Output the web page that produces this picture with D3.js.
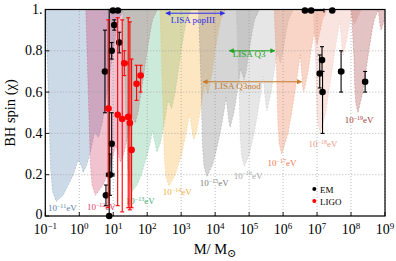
<!DOCTYPE html>
<html><head><meta charset="utf-8">
<script src="https://cdn.jsdelivr.net/npm/d3@7"></script>
<style>
body{margin:0;background:#fff}
text{font-family:"Liberation Serif","DejaVu Serif",serif}
</style></head><body><svg id="c" width="396" height="261"></svg>
<script>
// ---------------- DATA ----------------
const massTickExp = [-1,0,1,2,3,4,5,6,7,8,9];
const spinTicks = [0,0.2,0.4,0.6,0.8,1];
const spinTickLabels = ["0","0.2","0.4","0.6","0.8","1."];

// boson masses (exponent of eV) and the BH mass (Msun) where alpha=1/2 at chi=1
const bosonExp = [-11,-12,-13,-14,-15,-16,-17,-18,-19];
const refMass = [6.67,66.7,667,6.67e3,6.67e4,6.67e5,6.67e6,6.67e7,6.67e8];

// Regge-plane exclusion outlines: [log10(M/refMass), spin]
const shape11 = [[-1.81,1],[-1.735,0.58],[-1.665,0.22],[-1.612,0.12],[-1.506,0.07],[-1.3,0.1],[-0.997,0.2],[-0.856,0.273],[-0.744,0.235],[-0.709,0.21],[-0.597,0.25],[-0.515,0.3],[-0.444,0.35],[-0.374,0.404],[-0.256,0.38],[-0.147,0.45],[0,0.6],[0.088,0.7],[0.176,0.8],[0.274,0.9],[0.335,0.95],[0.476,1]];
const shape12 = [[-1.632,1],[-1.559,0.595],[-1.497,0.25],[-1.45,0.15],[-1.35,0.1],[-1.124,0.15],[-0.997,0.2],[-0.897,0.25],[-0.815,0.3],[-0.753,0.342],[-0.65,0.285],[-0.615,0.26],[-0.515,0.3],[-0.444,0.35],[-0.379,0.4],[-0.288,0.483],[-0.174,0.45],[-0.094,0.5],[0,0.6],[0.088,0.7],[0.176,0.8],[0.274,0.9],[0.335,0.95],[0.476,1]];
const shape13 = [[-1.544,1],[-1.471,0.604],[-1.412,0.27],[-1.368,0.17],[-1.271,0.12],[-1.124,0.15],[-0.997,0.2],[-0.815,0.3],[-0.744,0.35],[-0.668,0.412],[-0.571,0.335],[-0.535,0.31],[-0.444,0.35],[-0.379,0.4],[-0.324,0.45],[-0.271,0.5],[-0.212,0.561],[-0.103,0.52],[0,0.6],[0.088,0.7],[0.176,0.8],[0.274,0.9],[0.335,0.95],[0.476,1]];
const shape14 = [[-1.45,1],[-1.376,0.615],[-1.324,0.295],[-1.279,0.195],[-1.188,0.145],[-0.997,0.2],[-0.815,0.3],[-0.679,0.4],[-0.578,0.494],[-0.488,0.395],[-0.453,0.37],[-0.379,0.4],[-0.271,0.5],[-0.176,0.6],[-0.141,0.638],[-0.035,0.59],[0.088,0.7],[0.176,0.8],[0.274,0.9],[0.335,0.95],[0.476,1]];
const shape15 = [[-1.315,1],[-1.241,0.636],[-1.197,0.34],[-1.153,0.24],[-1.068,0.19],[-0.897,0.25],[-0.815,0.3],[-0.679,0.4],[-0.571,0.5],[-0.5,0.574],[-0.418,0.455],[-0.382,0.43],[-0.271,0.5],[-0.176,0.6],[-0.088,0.7],[-0.076,0.714],[0.026,0.66],[0.088,0.7],[0.176,0.8],[0.274,0.9],[0.335,0.95],[0.476,1]];
const shape16 = [[-1.2,1],[-1.126,0.658],[-1.088,0.39],[-1.047,0.29],[-0.965,0.24],[-0.815,0.3],[-0.679,0.4],[-0.571,0.5],[-0.476,0.6],[-0.41,0.676],[-0.332,0.535],[-0.297,0.51],[-0.176,0.6],[-0.088,0.7],[-0.003,0.798],[0.097,0.74],[0.176,0.8],[0.274,0.9],[0.335,0.95],[0.476,1]];
const shape17 = [[-1.085,1],[-1.012,0.685],[-0.979,0.45],[-0.941,0.35],[-0.865,0.3],[-0.679,0.4],[-0.571,0.5],[-0.476,0.6],[-0.388,0.7],[-0.318,0.781],[-0.247,0.625],[-0.212,0.6],[-0.088,0.7],[0,0.8],[0.085,0.887],[0.176,0.83],[0.274,0.9],[0.335,0.95],[0.476,1]];
const shape18 = [[-0.935,1],[-0.862,0.73],[-0.835,0.55],[-0.803,0.45],[-0.729,0.4],[-0.571,0.5],[-0.476,0.6],[-0.388,0.7],[-0.3,0.8],[-0.203,0.9],[-0.147,0.946],[-0.09,0.805],[-0.054,0.78],[0.044,0.85],[0.097,0.9],[0.159,0.95],[0.197,0.972],[0.282,0.93],[0.335,0.95],[0.476,1]];
const shape19 = [[-0.815,1],[-0.741,0.775],[-0.721,0.65],[-0.688,0.55],[-0.621,0.5],[-0.476,0.6],[-0.388,0.7],[-0.3,0.8],[-0.203,0.9],[-0.141,0.95],[-0.021,0.999],[0.026,0.925],[0.062,0.9],[0.159,0.95],[0.3,1]];
const regionShapes = [shape11,shape12,shape13,shape14,shape15,shape16,shape17,shape18,shape19];

// EM measurements
const emMass   = [9.8, 13.7, 10.7, 15.0, 9.0, 5.7, 9.0, 8.0, 6.1, 7.6, 4.4e6, 6.7e6, 2.8e7, 1.4e7, 1.2e7, 1.45e7, 5.1e7, 2.6e8];
const emSpin   = [0.995,0.995,0.925,0.84,0.80,0.70,0.35,0.20,0.10,0.0,0.995,0.995,0.995,0.755,0.69,0.60,0.70,0.65];
const emSpinLo = [null,null,0.90,0.79,0.76,0.50,0.20,0.10,0.05,0.0,null,null,null,0.70,0.62,0.40,0.60,0.60];
const emSpinHi = [null,null,0.95,0.89,0.84,0.90,0.50,0.30,0.15,1.0,null,null,null,0.82,0.78,0.70,0.80,0.70];
const emMassLo = [null,null,null,14.0,null,null,null,6.3,null,null,null,6.7e6,null,1.2e7,null,null,4.3e7,2.3e8];
const emMassHi = [null,null,null,16.5,null,null,null,10.5,null,null,null,1.6e7,null,1.65e7,null,null,6.1e7,2.9e8];

// LIGO measurements
const ligoMass   = [7.1, 13.5, 18.4, 27.6, 30.9, 34.7, 21.1, 48.7, 64];
const ligoSpin   = [0.52,0.49,0.47,0.48,0.45,0.32,0.74,0.64,0.68];
const ligoSpinLo = [0.04,0.05,0.02,0.04,0.03,0.04,0.68,0.56,0.60];
const ligoSpinHi = [0.95,0.96,0.95,0.96,0.94,0.76,0.80,0.73,0.73];
const ligoMassLo = [6.0,12.3,null,null,null,null,19.0,44,58];
const ligoMassHi = [8.6,15.0,null,null,null,null,27.0,55,70];

// LISA ranges
const lisaNames = ["LISA popIII","LISA Q3","LISA Q3nod"];
const lisaMassLo = [355, 2.6e4, 4.4e3];
const lisaMassHi = [1.9e4, 5.7e5, 3.5e6];
const lisaSpin = [0.982, 0.80, 0.65];

// ---------------- STYLE ----------------
const regionColor = ["#4876a5","#cd2658","#48b27a","#f8a826","#696969","#a5a5a5","#eb6937","#e89e91","#9b2626"];
const labelColor  = ["#5b82ad","#e23a64","#3fae76","#f5ae3a","#7a7a7a","#a8a8a8","#ef7a55","#eb9a88","#a33a3a"];
const labelPos = [[0.12,0.024],[1.68,0.029],[23.4,0.058],[288,0.10],[3550,0.145],[3.5e4,0.18],[3.5e5,0.242],[5.6e6,0.334],[6.5e7,0.45]];
const lisaColor = ["#2d2df0","#22a022","#c47a2a"];
const lisaTextPos = [[2.2e3,0.935],[1.0e5,0.77],[4.6e4,0.615]];

const svg = d3.select("#c");
const x = d3.scaleLog().domain([0.1,1e9]).range([45.3,385]);
const y = d3.scaleLinear().domain([0,1]).range([216,9.5]);

svg.append("rect").attr("width",396).attr("height",261).attr("fill","#fff");
svg.append("clipPath").attr("id","clip").append("rect")
  .attr("x",x(0.1)).attr("y",y(1)).attr("width",x(1e9)-x(0.1)).attr("height",y(0)-y(1));

const plot = svg.append("g").attr("clip-path","url(#clip)");

regionShapes.forEach((sh,i)=>{
  const line = d3.line().x(d=>x(refMass[i]*Math.pow(10,d[0]))).y(d=>y(d[1]));
  plot.append("path").attr("d",line(sh)+"Z")
    .attr("fill",regionColor[i]).attr("fill-opacity",0.28)
    .attr("stroke",regionColor[i]).attr("stroke-opacity",0.45)
    .attr("stroke-width",0.6).attr("stroke-dasharray","2,1.5");
});

// grid
const gg = svg.append("g").attr("stroke","#9a9a9a").attr("stroke-width",0.7).attr("stroke-dasharray","1,2");
massTickExp.forEach(e=>{ gg.append("line").attr("x1",x(Math.pow(10,e))).attr("x2",x(Math.pow(10,e))).attr("y1",y(0)).attr("y2",y(1)); });
spinTicks.forEach(s=>{ gg.append("line").attr("x1",x(0.1)).attr("x2",x(1e9)).attr("y1",y(s)).attr("y2",y(s)); });

// LISA arrows
const defs = svg.append("defs");
lisaColor.forEach((c,i)=>{
  const m1 = defs.append("marker").attr("id","ae"+i).attr("viewBox","0 0 10 10").attr("refX",9).attr("refY",5)
    .attr("markerWidth",6).attr("markerHeight",5).attr("markerUnits","userSpaceOnUse").attr("orient","auto");
  m1.append("path").attr("d","M0,0 L10,5 L0,10 Z").attr("fill",c);
  const m2 = defs.append("marker").attr("id","as"+i).attr("viewBox","0 0 10 10").attr("refX",1).attr("refY",5)
    .attr("markerWidth",6).attr("markerHeight",5).attr("markerUnits","userSpaceOnUse").attr("orient","auto");
  m2.append("path").attr("d","M10,0 L0,5 L10,10 Z").attr("fill",c);
});
lisaNames.forEach((n,i)=>{
  svg.append("line").attr("x1",x(lisaMassLo[i])).attr("x2",x(lisaMassHi[i]))
    .attr("y1",y(lisaSpin[i])).attr("y2",y(lisaSpin[i]))
    .attr("stroke",lisaColor[i]).attr("stroke-width",1)
    .attr("marker-start","url(#as"+i+")").attr("marker-end","url(#ae"+i+")");
  svg.append("text").attr("x",x(lisaTextPos[i][0])).attr("y",y(lisaTextPos[i][1]))
    .attr("text-anchor","middle").attr("font-size",9).attr("fill",lisaColor[i]).text(n);
});

// region labels
bosonExp.forEach((e,i)=>{
  const t = svg.append("text").attr("x",x(labelPos[i][0])).attr("y",y(labelPos[i][1]))
    .attr("font-size",9).attr("fill",labelColor[i]);
  t.append("tspan").text("10");
  t.append("tspan").attr("dy",-3.5).attr("font-size",6).text("−"+Math.abs(e));
  t.append("tspan").attr("dy",3.5).text("eV");
});

// error bars + points
function drawSet(mass,spin,lo,hi,mlo,mhi,color){
  const g = svg.append("g").attr("stroke",color).attr("stroke-width",1.1);
  mass.forEach((m,i)=>{
    const cx = x(m);
    if(lo[i]!==null){
      g.append("line").attr("x1",cx).attr("x2",cx).attr("y1",y(lo[i])).attr("y2",y(hi[i]));
      g.append("line").attr("x1",cx-2).attr("x2",cx+2).attr("y1",y(lo[i])).attr("y2",y(lo[i]));
      g.append("line").attr("x1",cx-2).attr("x2",cx+2).attr("y1",y(hi[i])).attr("y2",y(hi[i]));
    }
    if(mlo[i]!==null){
      const cy = y(spin[i]);
      g.append("line").attr("x1",x(mlo[i])).attr("x2",x(mhi[i])).attr("y1",cy).attr("y2",cy);
      g.append("line").attr("x1",x(mlo[i])).attr("x2",x(mlo[i])).attr("y1",cy-2).attr("y2",cy+2);
      g.append("line").attr("x1",x(mhi[i])).attr("x2",x(mhi[i])).attr("y1",cy-2).attr("y2",cy+2);
    }
  });
  svg.append("g").selectAll("circle").data(mass).join("circle")
    .attr("cx",d=>x(d)).attr("cy",(d,i)=>y(spin[i])).attr("r",3.3).attr("fill",color);
}
drawSet(emMass,emSpin,emSpinLo,emSpinHi,emMassLo,emMassHi,"#000");
drawSet(ligoMass,ligoSpin,ligoSpinLo,ligoSpinHi,ligoMassLo,ligoMassHi,"#ff0000");

// frame
svg.append("rect").attr("x",x(0.1)).attr("y",y(1)).attr("width",x(1e9)-x(0.1)).attr("height",y(0)-y(1))
  .attr("fill","none").attr("stroke","#000").attr("stroke-width",1.2);

// ticks
const tg = svg.append("g").attr("stroke","#000").attr("stroke-width",0.9);
massTickExp.forEach(e=>{ const px=x(Math.pow(10,e)); tg.append("line").attr("x1",px).attr("x2",px).attr("y1",y(0)).attr("y2",y(0)-4); });
spinTicks.forEach(s=>{ tg.append("line").attr("x1",x(0.1)).attr("x2",x(0.1)+4).attr("y1",y(s)).attr("y2",y(s)); });

// tick labels
massTickExp.forEach(e=>{
  const t = svg.append("text").attr("x",x(Math.pow(10,e))).attr("y",234).attr("text-anchor","middle").attr("font-size",14);
  t.append("tspan").text("10");
  t.append("tspan").attr("dy",-5.5).attr("font-size",9).text(e<0?"−"+Math.abs(e):String(e));
});
spinTicks.forEach((s,i)=>{
  svg.append("text").attr("x",42.5).attr("y",y(s)+(s===0?3.2:4.6)).attr("text-anchor","end").attr("font-size",14).text(spinTickLabels[i]);
});

// axis titles
const xt = svg.append("text").attr("x",215).attr("y",254).attr("text-anchor","middle").attr("font-size",14.5);
xt.append("tspan").text("M/ M");
xt.append("tspan").attr("dy",3).attr("font-size",11).text("⊙");
svg.append("text").attr("transform","translate(15,113) rotate(-90)").attr("text-anchor","middle")
  .attr("font-size",14.5).text("BH spin (χ)");

// legend
const legNames = ["EM","LIGO"], legColors = ["#000","#ff0000"];
legNames.forEach((n,i)=>{
  svg.append("circle").attr("cx",314.3).attr("cy",189+i*12).attr("r",2).attr("fill",legColors[i]);
  svg.append("text").attr("x",320).attr("y",192.5+i*12).attr("font-size",9).text(n);
});
</script></body></html>
